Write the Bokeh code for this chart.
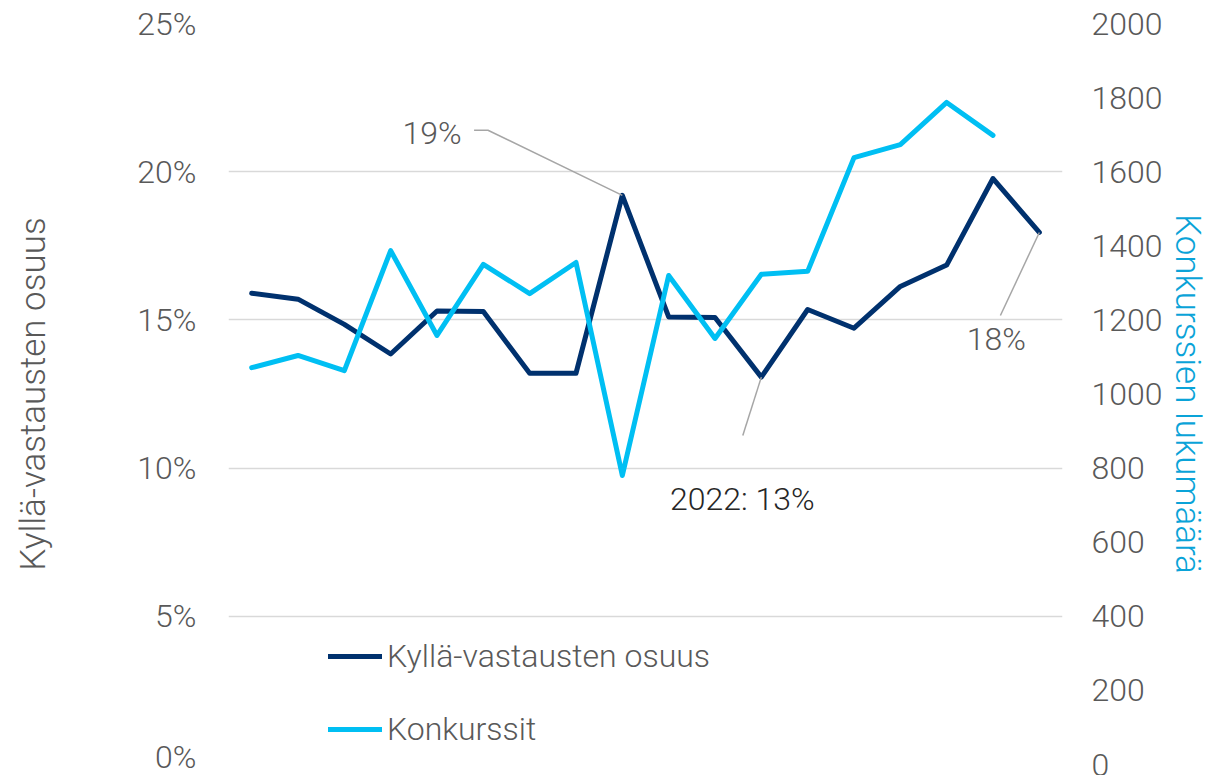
from bokeh.plotting import figure
from bokeh.models import Range1d, LinearAxis, FixedTicker, PrintfTickFormatter, Legend, LegendItem
from bokeh.core.properties import value
from bokeh.embed import file_html
from bokeh.resources import INLINE

# ---- data ----
periods = list(range(18))
share_yes = [15.9, 15.7, 14.85, 13.85, 15.3, 15.28, 13.2, 13.2, 19.2, 15.1, 15.08,
             13.07, 15.35, 14.72, 16.13, 16.85, 19.77, 17.95]
bankruptcies = [1071, 1104, 1063, 1387, 1158, 1350, 1271, 1355, 780, 1320, 1150,
                1323, 1331, 1638, 1673, 1787, 1698]
left_ticks = [0, 5, 10, 15, 20, 25]
right_ticks = [0, 200, 400, 600, 800, 1000, 1200, 1400, 1600, 1800, 2000]

# annotations
ann_labels = ["19%", "2022: 13%", "18%"]
ann_idx = [8, 11, 17]
ann_mid_x = [[5.1, 4.8], [10.6], [16.16]]
ann_mid_y = [[21.4, 21.4], [11.1], [15.15]]
ann_text_x = [4.53, 10.59, 16.07]
ann_text_y = [21.3, 8.95, 14.37]
ann_align = ["right", "center", "center"]
ann_color = ["#595959", "#262626", "#595959"]

NAVY = "#00316e"
CYAN = "#00bff3"
GRAY = "#595959"
FONT = "Roboto Light"

p = figure(width=1211, height=775, output_backend="svg", toolbar_location=None,
           x_range=Range1d(-0.5, 17.5), y_range=Range1d(0, 25),
           x_axis_location=None, min_border_left=228, min_border_right=149,
           min_border_top=23, min_border_bottom=11)
p.outline_line_color = None
p.background_fill_color = "white"
p.border_fill_color = "white"

p.extra_y_ranges = {"right": Range1d(0, 2000)}

# grid
p.xgrid.visible = False
p.ygrid.ticker = FixedTicker(ticks=left_ticks)
p.ygrid.grid_line_color = "#d9d9d9"
p.ygrid.grid_line_width = 1.5

# left axis
ax = p.yaxis[0]
ax.ticker = FixedTicker(ticks=left_ticks)
ax.formatter = PrintfTickFormatter(format="%d%%")
ax.axis_label = "Kyllä-vastausten osuus"
ax.axis_label_text_font = FONT
ax.axis_label_text_font_size = "35px"
ax.axis_label_text_font_style = "normal"
ax.axis_label_text_color = GRAY
ax.axis_label_standoff = 80
ax.major_label_text_font = FONT
ax.major_label_text_font_size = "32px"
ax.major_label_text_color = GRAY
ax.major_label_standoff = 26
ax.axis_line_color = None
ax.major_tick_line_color = None
ax.minor_tick_line_color = None

# right axis
rax = LinearAxis(y_range_name="right", ticker=FixedTicker(ticks=right_ticks))
rax.axis_label = "Konkurssien lukumäärä"
rax.axis_label_text_font = FONT
rax.axis_label_text_font_size = "35px"
rax.axis_label_text_font_style = "normal"
rax.axis_label_text_color = "#0aa3d8"
rax.axis_label_standoff = 1
rax.major_label_text_font = FONT
rax.major_label_text_font_size = "32px"
rax.major_label_text_color = GRAY
rax.major_label_standoff = 23
rax.axis_line_color = None
rax.major_tick_line_color = None
rax.minor_tick_line_color = None
p.add_layout(rax, "right")

# lines
r_navy = p.line(periods, share_yes, line_color=NAVY, line_width=5, line_join="round", line_cap="round")
r_cyan = p.line(periods[:len(bankruptcies)], bankruptcies, y_range_name="right",
                line_color=CYAN, line_width=5, line_join="round", line_cap="round")

# annotations
for lab, i, mx, my, tx, ty, al, col in zip(ann_labels, ann_idx, ann_mid_x, ann_mid_y,
                                             ann_text_x, ann_text_y, ann_align, ann_color):
    xs = [periods[i]] + mx
    ys = [share_yes[i]] + my
    p.line(xs, ys, line_color="#a6a6a6", line_width=1.5)
    p.text([tx], [ty], text=[lab], text_font=value(FONT), text_font_size="32px",
           text_color=col, text_align=al, text_baseline="middle")

legend = Legend(items=[LegendItem(label="Kyllä-vastausten osuus", renderers=[r_navy]),
                       LegendItem(label="Konkurssit", renderers=[r_cyan])],
                location=(100, 16), orientation="vertical")
legend.background_fill_alpha = 0
legend.border_line_color = None
legend.padding = 0
legend.margin = 0
legend.glyph_width = 54
legend.glyph_height = 36
legend.label_height = 36
legend.spacing = 35
legend.label_standoff = 5
legend.label_text_font = FONT
legend.label_text_font_size = "32px"
legend.label_text_color = GRAY
p.add_layout(legend, "center")

open("out.html", "w").write(file_html(p, INLINE))
